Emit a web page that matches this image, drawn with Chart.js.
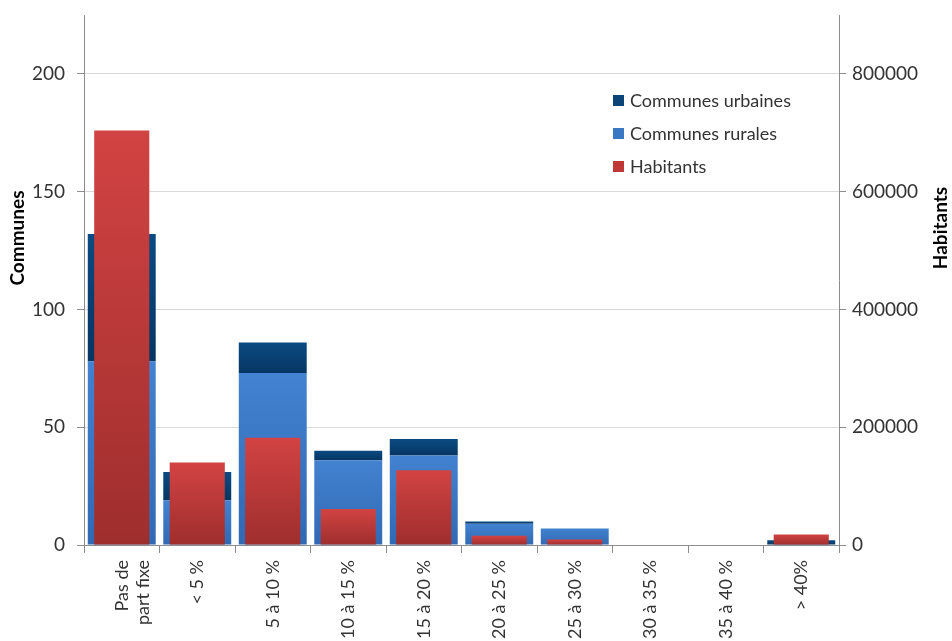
<!DOCTYPE html>
<html>
<head>
<meta charset="utf-8">
<script src="https://cdn.jsdelivr.net/npm/chart.js@4.4.0/dist/chart.umd.min.js"></script>
<style>
  html, body { margin: 0; padding: 0; background: #fff; }
  #wrap { width: 952px; height: 641px; position: relative; }
</style>
</head>
<body>
<div id="wrap"><canvas id="chart"></canvas></div>
<script>
const categories = [['Pas de', 'part fixe'], '< 5 %', '5 à 10 %', '10 à 15 %', '15 à 20 %', '20 à 25 %', '25 à 30 %', '30 à 35 %', '35 à 40 %', '> 40%'];
const rurales = [78, 19, 73, 36, 38, 9, 7, 0, 0, 0];
const urbaines = [54, 12, 13, 4, 7, 1, 0, 0, 0, 2];
const habitants = [704000, 140000, 182000, 61000, 127000, 15500, 9500, 0, 0, 18000];
const communesTicks = [0, 50, 100, 150, 200];
const habitantsTicks = [0, 200000, 400000, 600000, 800000];
const communesMax = 225;
const habitantsMax = 900000;

const FONT = 'Lato, "Open Sans", sans-serif';

// vertical gradient over one bar, from its base value to its top value
function barGradient(ctx, axisId, from, to, topColor, bottomColor) {
  const chart = ctx.chart;
  const scale = chart.scales[axisId];
  if (!scale || !chart.chartArea) return bottomColor;
  const y0 = scale.getPixelForValue(to);
  const y1 = scale.getPixelForValue(from);
  if (!isFinite(y0) || !isFinite(y1) || y1 - y0 < 1) return bottomColor;
  const g = chart.ctx.createLinearGradient(0, y0, 0, y1);
  g.addColorStop(0, topColor);
  g.addColorStop(1, bottomColor);
  return g;
}

// fixed axis sizes so the plot sits where it does in the original
function fixSize(prop, size) {
  return (s) => {
    s[prop] = size;
    s.paddingTop = 0;
    s.paddingBottom = 0;
    s.paddingLeft = 0;
    s.paddingRight = 0;
  };
}

const legendItems = [
  { text: 'Communes urbaines', color: '#0b4476' },
  { text: 'Communes rurales', color: '#3a78c4' },
  { text: 'Habitants', color: '#bf3737' }
];

const extras = {
  id: 'extras',
  afterDraw(chart) {
    const c = chart.ctx;
    c.save();
    // legend inside the plot
    c.font = '18px ' + FONT;
    c.textBaseline = 'middle';
    legendItems.forEach((it, i) => {
      const y = 100 + i * 33;
      c.fillStyle = it.color;
      c.fillRect(613, y - 5, 11, 11);
      c.fillStyle = '#333';
      c.fillText(it.text, 630, y + 1);
    });
    c.restore();
    // axis titles
    [['Communes', 18, 238], ['Habitants', 941, 228]].forEach(([t, x, y]) => {
      c.save();
      c.font = 'bold 19px ' + FONT;
      c.textAlign = 'center';
      c.textBaseline = 'middle';
      c.fillStyle = '#000';
      c.translate(x, y);
      c.rotate(-Math.PI / 2);
      c.fillText(t, 0, 0);
      c.restore();
    });
  }
};

new Chart(document.getElementById('chart'), {
  type: 'bar',
  data: {
    labels: categories,
    datasets: [
      {
        label: 'Communes rurales',
        data: rurales,
        yAxisID: 'y',
        stack: 'communes',
        order: 2,
        barPercentage: 0.9,
        categoryPercentage: 1,
        grouped: false,
        backgroundColor: (ctx) => barGradient(ctx, 'y', 0, rurales[ctx.dataIndex], '#4282d0', '#3169b3')
      },
      {
        label: 'Communes urbaines',
        data: urbaines,
        yAxisID: 'y',
        stack: 'communes',
        order: 2,
        barPercentage: 0.9,
        categoryPercentage: 1,
        grouped: false,
        backgroundColor: (ctx) => barGradient(ctx, 'y', rurales[ctx.dataIndex],
          rurales[ctx.dataIndex] + urbaines[ctx.dataIndex], '#0b4a82', '#063663')
      },
      {
        label: 'Habitants',
        data: habitants,
        yAxisID: 'y1',
        stack: 'habitants',
        order: 1,
        barPercentage: 0.73,
        categoryPercentage: 1,
        grouped: false,
        backgroundColor: (ctx) => barGradient(ctx, 'y1', 0, habitants[ctx.dataIndex], '#d24343', '#9e2e2d')
      }
    ]
  },
  options: {
    responsive: true,
    maintainAspectRatio: false,
    animation: false,
    layout: { padding: { top: 15, left: 0, right: 0, bottom: 0 } },
    plugins: {
      legend: { display: false },
      tooltip: { enabled: false }
    },
    scales: {
      x: {
        stacked: true,
        afterFit: fixSize('height', 96),
        grid: {
          offset: true,
          drawOnChartArea: false,
          tickLength: 8,
          color: '#8c8c8c'
        },
        border: { color: '#8c8c8c' },
        ticks: {
          color: '#333',
          font: { family: FONT, size: 18 },
          minRotation: 90,
          maxRotation: 90,
          padding: 7,
          autoSkip: false
        }
      },
      y: {
        position: 'left',
        stacked: true,
        min: 0,
        max: communesMax,
        afterFit: fixSize('width', 84),
        afterBuildTicks: (s) => { s.ticks = communesTicks.map((v) => ({ value: v })); },
        grid: {
          color: '#d9d9d9',
          tickColor: '#8c8c8c',
          tickLength: 7
        },
        border: { color: '#8c8c8c' },
        ticks: {
          color: '#333',
          padding: 12,
          font: { family: FONT, size: 19 },
          callback: (v) => String(v)
        }
      },
      y1: {
        position: 'right',
        min: 0,
        max: habitantsMax,
        afterFit: fixSize('width', 113),
        afterBuildTicks: (s) => { s.ticks = habitantsTicks.map((v) => ({ value: v })); },
        grid: {
          drawOnChartArea: false,
          color: '#8c8c8c',
          tickLength: 7
        },
        border: { color: '#8c8c8c' },
        ticks: {
          color: '#333',
          padding: 6,
          font: { family: FONT, size: 19 },
          callback: (v) => String(v)
        }
      }
    }
  },
  plugins: [extras]
});
</script>
</body>
</html>
